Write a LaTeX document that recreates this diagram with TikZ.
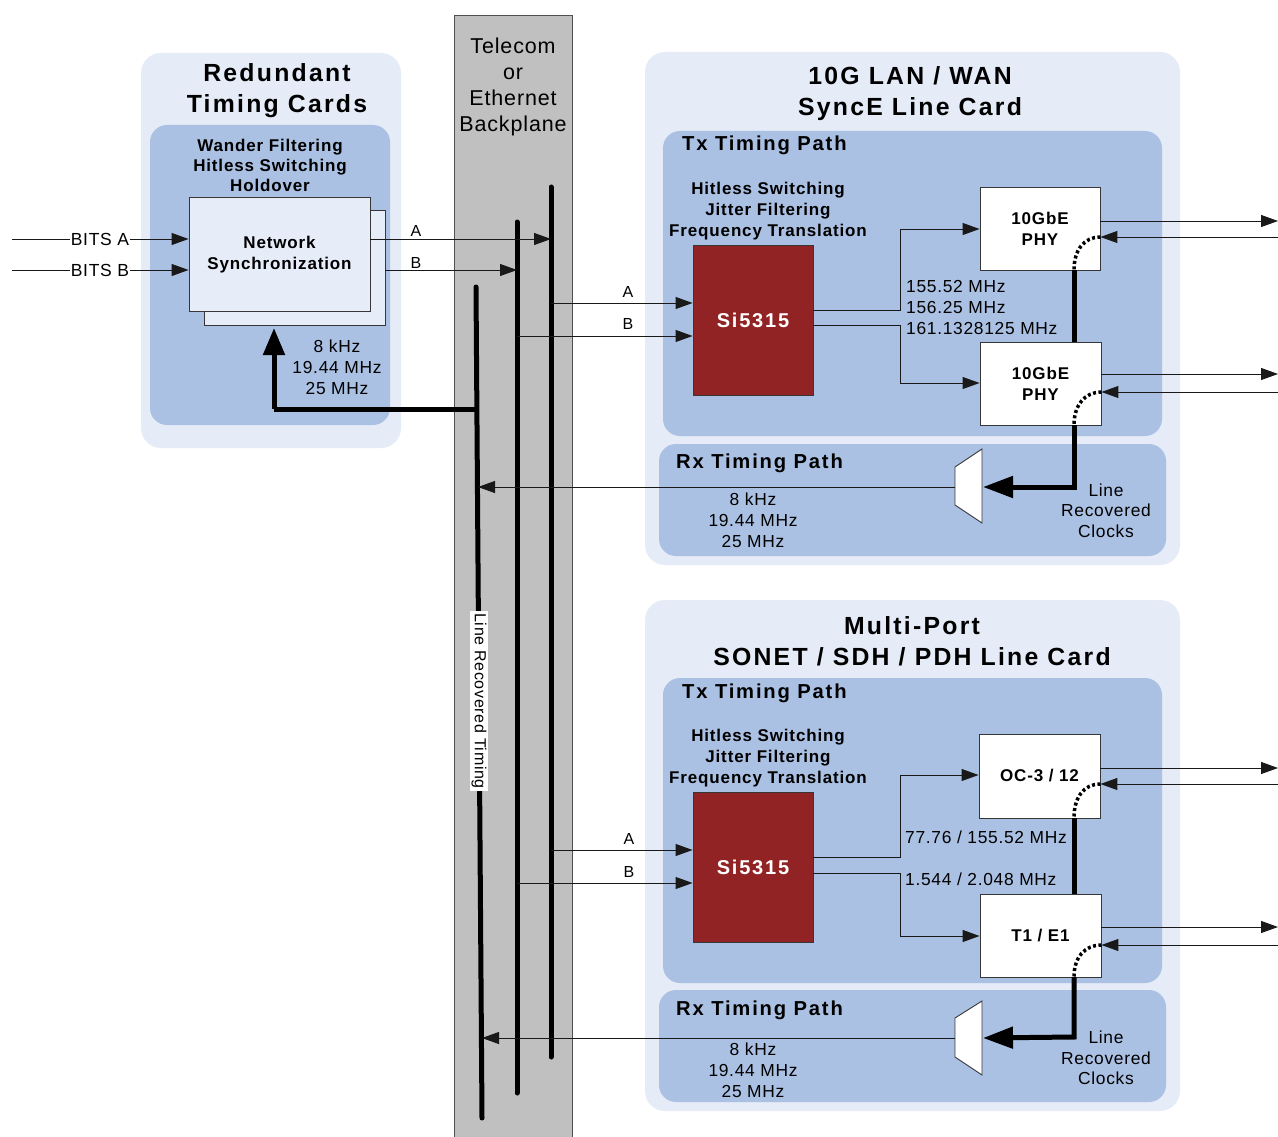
\documentclass[tikz,border=0pt]{standalone}
\usepackage{fontspec}
\setmainfont{Liberation Sans}
\newfontfamily\rg{Liberation Sans}[LetterSpace=4]
\newfontfamily\bd{Liberation Sans Bold}[LetterSpace=9]
\newfontfamily\bds{Liberation Sans Bold}[LetterSpace=5]
\newcommand{\fsz}[2]{\fontsize{#1}{#2}\selectfont}
\usetikzlibrary{arrows.meta}
\definecolor{cardbg}{RGB}{229,235,247}
\definecolor{pathbg}{RGB}{171,193,227}
\definecolor{sired}{RGB}{146,35,37}
\definecolor{bpgray}{RGB}{192,192,192}
\definecolor{bpline}{RGB}{80,80,80}
\definecolor{nsfill}{RGB}{230,236,248}
\definecolor{lineclr}{RGB}{25,25,25}
\definecolor{boxclr}{RGB}{55,55,55}
\begin{document}
\begin{tikzpicture}[x=1pt,y=-1pt,
  card/.style={fill=cardbg, rounded corners=20pt, inner sep=0pt},
  tpath/.style={fill=pathbg, rounded corners=17pt, inner sep=0pt},
  wbox/.style={draw=boxclr, line width=0.9pt, fill=white, inner sep=0pt, font={\bds\fsz{17}{21}}, align=center},
  sibox/.style={draw=boxclr, line width=0.9pt, fill=sired, inner sep=0pt, minimum width=120, minimum height=150, text=white, font={\bd\fsz{20}{24}}},
  sig/.style={draw=lineclr, line width=1pt, -{Triangle[length=17pt,width=12pt]}},
  plain/.style={draw=lineclr, line width=1pt},
  bar/.style={line width=5pt, line cap=round},
  thickl/.style={line width=5pt},
  bigarr/.style={line width=5pt, -{Triangle[length=30pt,width=21pt]}},
  dotc/.style={line width=3.5pt, dash pattern=on 3pt off 2.5pt},
  ttl/.style={font={\bd\fsz{24.8}{31}}, align=center, inner sep=0pt},
  sub/.style={font={\bd\fsz{20.2}{24}}, inner sep=0pt, anchor=west},
  bsm/.style={font={\bds\fsz{17}{21}}, align=center, inner sep=0pt},
  rsm/.style={font={\rg\fsz{17.4}{21}}, align=center, inner sep=0pt},
  lab/.style={font={\rg\fsz{16}{20}}, inner sep=0.5pt},
  mux/.style={draw=boxclr, line width=0.9pt, fill=white}
]
\useasboundingbox (0,0) rectangle (1278,1137);

% ---------------- Redundant timing cards
\node[card, minimum width=260, minimum height=395] (rc) at (271,250.5) {};
\node[tpath, minimum width=240, minimum height=300] (rcin) at (270,275) {};
\node[ttl] (rct) at (277,90.5) {Redundant\\Timing Cards};
\node[bsm, font={\bds\fsz{17}{20}}] (rcw) at (270,165.5) {Wander Filtering\\Hitless Switching\\Holdover};
\node[draw=boxclr, line width=0.9pt, fill=nsfill, minimum width=181, minimum height=115, inner sep=0pt] (nsb) at (294.5,267.5) {};
\node[draw=boxclr, line width=0.9pt, fill=nsfill, minimum width=181, minimum height=114, inner sep=0pt] (nsf) at (279.5,254) {};
\node[bsm] (nst) at (279.5,255) {Network\\Synchronization};
\node[rsm] (rcf) at (337,367) {8 kHz\\19.44 MHz\\25 MHz};

\node[lab, font={\rg\fsz{17.5}{20}}] (bitsa) at (100,239) {BITS A};
\node[lab, font={\rg\fsz{17.5}{20}}] (bitsb) at (100,270) {BITS B};
\coordinate (ba0) at (12,239);
\coordinate (bb0) at (12,270);
\draw[plain] (ba0) -- (bitsa.west);
\draw[plain] (bb0) -- (bitsb.west);
\draw[sig] (bitsa.east) -- (nsf.west |- bitsa.east);
\draw[sig] (bitsb.east) -- (nsf.west |- bitsb.east);

% ---------------- Backplane
\node[draw=bpline, line width=0.9pt, fill=bpgray, minimum width=118, minimum height=1130, inner sep=0pt, anchor=north west] (bp) at (454,15) {};
\node[font={\rg\fsz{21.5}{26}}, align=center, inner sep=0pt] (bpt) at (513,87) {Telecom\\or\\Ethernet\\Backplane};

\coordinate (b1t) at (551,187);
\coordinate (b1b) at (551,1057);
\coordinate (b2t) at (517,222);
\coordinate (b2b) at (517,1093);
\coordinate (b3t) at (476,287);
\coordinate (b3b) at (482,1118);

% ---------------- Line card 1
\node[card, minimum width=535, minimum height=513] (lc1) at (912.5,308.5) {};
\node[tpath, minimum width=499, minimum height=305] (tx1) at (912.5,283.5) {};
\node[tpath, minimum width=507, minimum height=112] (rx1) at (912.5,500) {};
\node[ttl] (lc1t) at (910,94) {10G LAN / WAN\\SyncE Line Card};
\node[sub] (tx1t) at (682,145.5) {Tx Timing Path};
\node[sub] (rx1t) at (676,463) {Rx Timing Path};
\node[bsm] (hs1) at (768,211.5) {Hitless Switching\\Jitter Filtering\\Frequency Translation};
\node[sibox] (si1) at (753,320) {Si5315};
\node[wbox, minimum width=120, minimum height=83] (phy1) at (1040,228.5) {};
\node[bsm] (phy1t) at (1040,229) {10GbE\\PHY};
\node[wbox, minimum width=121, minimum height=83] (phy2) at (1040.5,383.5) {};
\node[bsm] (phy2t) at (1040.5,384) {10GbE\\PHY};
\node[rsm, align=left, anchor=west] (f1) at (906,307.5) {155.52 MHz\\156.25 MHz\\161.1328125 MHz};
\node[rsm] (rxf1) at (753,520) {8 kHz\\19.44 MHz\\25 MHz};
\node[rsm, font={\rg\fsz{17.4}{20.5}}] (lrc1) at (1106,510.5) {Line\\Recovered\\Clocks};
\draw[mux] (955,467) -- (982,449) -- (982,523) -- (955,505) -- cycle;
\coordinate (m1r) at (983,487);
\coordinate (m1l) at (955,487);

% ---------------- Line card 2
\node[card, minimum width=535, minimum height=511] (lc2) at (912.5,855.5) {};
\node[tpath, minimum width=499, minimum height=305] (tx2) at (912.5,830.5) {};
\node[tpath, minimum width=507, minimum height=112] (rx2) at (912.5,1046) {};
\node[ttl] (lc2t) at (912,641.5) {Multi-Port\\SONET / SDH / PDH Line Card};
\node[sub] (tx2t) at (682,693.5) {Tx Timing Path};
\node[sub] (rx2t) at (676,1010) {Rx Timing Path};
\node[bsm] (hs2) at (768,758.5) {Hitless Switching\\Jitter Filtering\\Frequency Translation};
\node[sibox] (si2) at (753,867) {Si5315};
\node[wbox, minimum width=121, minimum height=84] (oc) at (1039.5,776) {OC-3 / 12};
\node[wbox, minimum width=121, minimum height=83] (t1) at (1040.5,935.5) {T1 / E1};
\node[rsm, anchor=west] (f2a) at (905,837) {77.76 / 155.52 MHz};
\node[rsm, anchor=west] (f2b) at (905,879) {1.544 / 2.048 MHz};
\node[rsm] (rxf2) at (753,1070) {8 kHz\\19.44 MHz\\25 MHz};
\node[rsm, font={\rg\fsz{17.4}{20.5}}] (lrc2) at (1106,1058) {Line\\Recovered\\Clocks};
\draw[mux] (955,1018) -- (982,1001) -- (982,1075) -- (955,1057) -- cycle;
\coordinate (m2r) at (983,1038);
\coordinate (m2l) at (955,1038);

% ---------------- Backplane bars
\draw[bar] (b1t) -- (b1b);
\draw[bar] (b2t) -- (b2b);
\draw[bar] (b3t) -- (b3b);
\node[fill=white, rotate=-90, font={\rg\fsz{16}{18}}, inner sep=2pt] (lrt) at (479,701) {Line Recovered Timing};

% ---------------- Redundant card outputs and feedback
\draw[sig] (nsf.east |- bitsa.east) -- (b1t |- bitsa.east);
\draw[sig] (nsb.east |- bitsb.east) -- (b2t |- bitsb.east);
\node[lab] at (416,231) {A};
\node[lab] at (416,263) {B};
\coordinate (fb0) at (477,409);
\coordinate (fb1) at (274,409);
\coordinate (fb2) at (274,328);
\draw[thickl] (fb0) -- (fb1);
\draw[line width=5pt, -{Triangle[length=27pt,width=21pt]}] (fb1) -- (fb2);

% ---------------- Line card 1 connections
\coordinate (a1) at (551,303);
\coordinate (bb1) at (517,336);
\draw[sig] (a1) -- (a1 -| si1.west);
\draw[sig] (bb1) -- (bb1 -| si1.west);
\node[lab] at (628,292) {A};
\node[lab] at (628,324) {B};
\draw[sig] (si1.east |- 0,310) -- (900,310) -- (900,229) -- (phy1.west |- 0,229);
\draw[sig] (si1.east |- 0,325) -- (900,325) -- (900,383) -- (phy2.west |- 0,383);
\coordinate (p1o) at (1278,221);
\coordinate (p1i) at (1278,237);
\coordinate (p2o) at (1278,374);
\coordinate (p2i) at (1278,392);
\draw[sig] (phy1.east |- p1o) -- (p1o);
\draw[sig] (p1i) -- (phy1.east |- p1i);
\draw[sig] (phy2.east |- p2o) -- (p2o);
\draw[sig] (p2i) -- (phy2.east |- p2i);
\draw[dotc] (phy1.east |- p1i) .. controls (1084,237) and (1074,250) .. (1074,270);
\draw[dotc] (phy2.east |- p2i) .. controls (1085,392) and (1074,405) .. (1074,425);
\draw[thickl] (1074,270) -- (1074,342);
\draw[bigarr] (1074,425) -- (1074,487) -- (m1r);
\draw[sig] (m1l) -- (478,487);

% ---------------- Line card 2 connections
\coordinate (a2) at (551,850);
\coordinate (bb2) at (517,883);
\draw[sig] (a2) -- (a2 -| si2.west);
\draw[sig] (bb2) -- (bb2 -| si2.west);
\node[lab] at (629,839) {A};
\node[lab] at (629,872) {B};
\draw[sig] (si2.east |- 0,857) -- (900,857) -- (900,775) -- (oc.west |- 0,775);
\draw[sig] (si2.east |- 0,873) -- (900,873) -- (900,936) -- (t1.west |- 0,936);
\coordinate (o2o) at (1278,768);
\coordinate (o2i) at (1278,784);
\coordinate (t2o) at (1278,927);
\coordinate (t2i) at (1278,945);
\draw[sig] (oc.east |- o2o) -- (o2o);
\draw[sig] (o2i) -- (oc.east |- o2i);
\draw[sig] (t1.east |- t2o) -- (t2o);
\draw[sig] (t2i) -- (t1.east |- t2i);
\draw[dotc] (oc.east |- o2i) .. controls (1084,784) and (1074,797) .. (1074,818);
\draw[dotc] (t1.east |- t2i) .. controls (1085,945) and (1074,957) .. (1074,977);
\draw[thickl] (1074,818) -- (1074,894);
\draw[bigarr] (1074,977) -- (1074,1037) -- (m2r);
\draw[sig] (m2l) -- (482,1038);
\end{tikzpicture}
\end{document}
